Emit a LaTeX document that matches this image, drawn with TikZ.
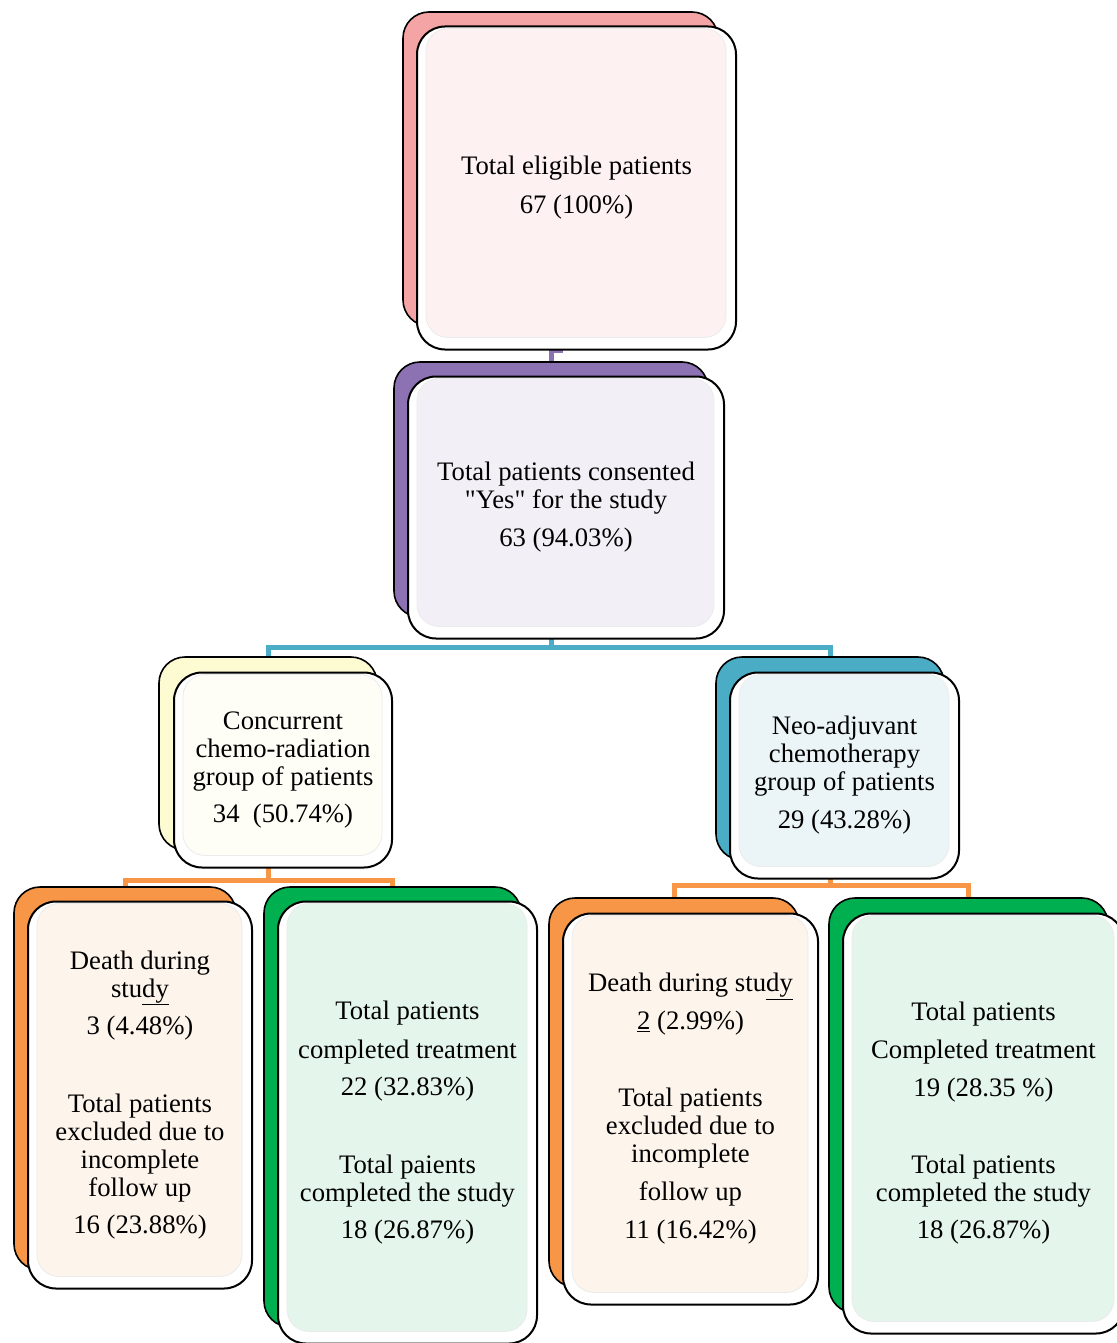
\documentclass[tikz,border=0pt]{standalone}
\usepackage{fontspec}
\setmainfont{Liberation Serif}[Ligatures=TeXOff]
\usepackage{xcolor}
\usetikzlibrary{backgrounds}

\definecolor{pinkback}{HTML}{F4A4A4}
\definecolor{pinkfill}{HTML}{FDF1F1}
\definecolor{purpleback}{HTML}{8C72B2}
\definecolor{purplefill}{HTML}{F2F0F6}
\definecolor{yellowback}{HTML}{FDFBD2}
\definecolor{yellowfill}{HTML}{FEFEF6}
\definecolor{blueback}{HTML}{4BACC6}
\definecolor{bluefill}{HTML}{EBF5F8}
\definecolor{orangeback}{HTML}{F79646}
\definecolor{orangefill}{HTML}{FDF4EC}
\definecolor{greenback}{HTML}{00B050}
\definecolor{greenfill}{HTML}{E4F5EB}

\newcommand\boxfont{\fontsize{26.7}{28}\selectfont}

\tikzset{
    box-size/.style 2 args = {minimum width=#1, minimum height=#2, inner sep=0pt, outer sep=0pt},
    back-box/.style = {draw=black, fill=#1, line width=1.6pt, rectangle, rounded corners=26pt},
    front-box/.style = {draw=black, fill=white, line width=2pt, rectangle, rounded corners=28pt, align=center, font=\boxfont,
        path picture={\fill[#1, draw=black!8, line width=0.8pt, rounded corners=22pt]
            ([xshift=9pt,yshift=-2pt]path picture bounding box.north west) rectangle
            ([xshift=-10pt,yshift=12pt]path picture bounding box.south east);}},
    link/.style = {draw=#1, line width=5pt},
}

\begin{document}
\begin{tikzpicture}[x=1pt, y=-1pt]
\useasboundingbox (0,0) rectangle (1116,1343);

\node[back-box=pinkback, box-size={315pt}{314pt}] (eligible-back) at (560.5,169) {};
\node[front-box=pinkfill, box-size={319pt}{323pt}] (eligible) at (576.5,188)
    {Total eligible patients\\[11pt] 67 (100\%)};

\node[back-box=purpleback, box-size={314pt}{255pt}] (consent-back) at (551,489.5) {};
\node[front-box=purplefill, box-size={316pt}{262pt}] (consent) at (566,507.5)
    {Total patients consented\\ "Yes" for the study\\[10pt] 63 (94.03\%)};

\node[back-box=yellowback, box-size={218pt}{193pt}] (ccrt-back) at (268,753.5) {};
\node[front-box=yellowfill, box-size={218pt}{195pt}] (ccrt) at (283,770)
    {Concurrent\\ chemo-radiation\\ group of patients\\[9pt] 34\ \ (50.74\%)};

\node[back-box=blueback, box-size={228pt}{203pt}] (nact-back) at (830,758.5) {};
\node[front-box=bluefill, box-size={229pt}{206pt}] (nact) at (844.5,775.5)
    {Neo-adjuvant\\ chemotherapy\\ group of patients\\[10pt] 29 (43.28\%)};

\node[back-box=orangeback, box-size={222pt}{383pt}] (ccrt-loss-back) at (125,1078.5) {};
\node[front-box=orangefill, box-size={224pt}{387pt}] (ccrt-loss) at (140,1095)
    {Death during\\ stu\underline{dy}\\[9pt] 3 (4.48\%)\\[50pt]
     Total patients\\ excluded due to\\ incomplete\\ follow up\\[9pt] 16 (23.88\%)};

\node[back-box=greenback, box-size={257pt}{440pt}] (ccrt-done-back) at (392.5,1107) {};
\node[front-box=greenfill, box-size={259pt}{442pt}] (ccrt-done) at (407.5,1122.5)
    {Total patients\\[11pt] completed treatment\\[9pt] 22 (32.83\%)\\[50pt]
     Total paients\\ completed the study\\[9pt] 18 (26.87\%)};

\node[back-box=orangeback, box-size={250pt}{389pt}] (nact-loss-back) at (674,1092.5) {};
\node[front-box=orangefill, box-size={255pt}{391pt}] (nact-loss) at (690.5,1109)
    {Death during stu\underline{dy}\\[10pt] \underline{2} (2.99\%)\\[49pt]
     Total patients\\ excluded due to\\ incomplete\\[10pt] follow up\\[10pt] 11 (16.42\%)};

\node[back-box=greenback, box-size={279pt}{415pt}] (nact-done-back) at (968.5,1105.5) {};
\node[front-box=greenfill, box-size={281pt}{420pt}] (nact-done) at (983.5,1123.5)
    {Total patients\\[10pt] Completed treatment\\[10pt] 19 (28.35 \%)\\[49pt]
     Total patients\\ completed the study\\[9pt] 18 (26.87\%)};

\begin{scope}[on background layer]
\draw[link=purpleback] (eligible-back.south) -- ++(0,24) -| (consent-back.north);
\draw[link=blueback] (consent-back.south) -- ++(0,30) -| (ccrt-back.north);
\draw[link=blueback] (consent-back.south) -- ++(0,30) -| (nact-back.north);
\draw[link=orangeback] (ccrt-back.south) -- ++(0,30) -| (ccrt-loss-back.north);
\draw[link=orangeback] (ccrt-back.south) -- ++(0,30) -| (ccrt-done-back.north);
\draw[link=orangeback] (nact-back.south) -- ++(0,25) -| (nact-loss-back.north);
\draw[link=orangeback] (nact-back.south) -- ++(0,25) -| (nact-done-back.north);
\end{scope}
\end{tikzpicture}
\end{document}
